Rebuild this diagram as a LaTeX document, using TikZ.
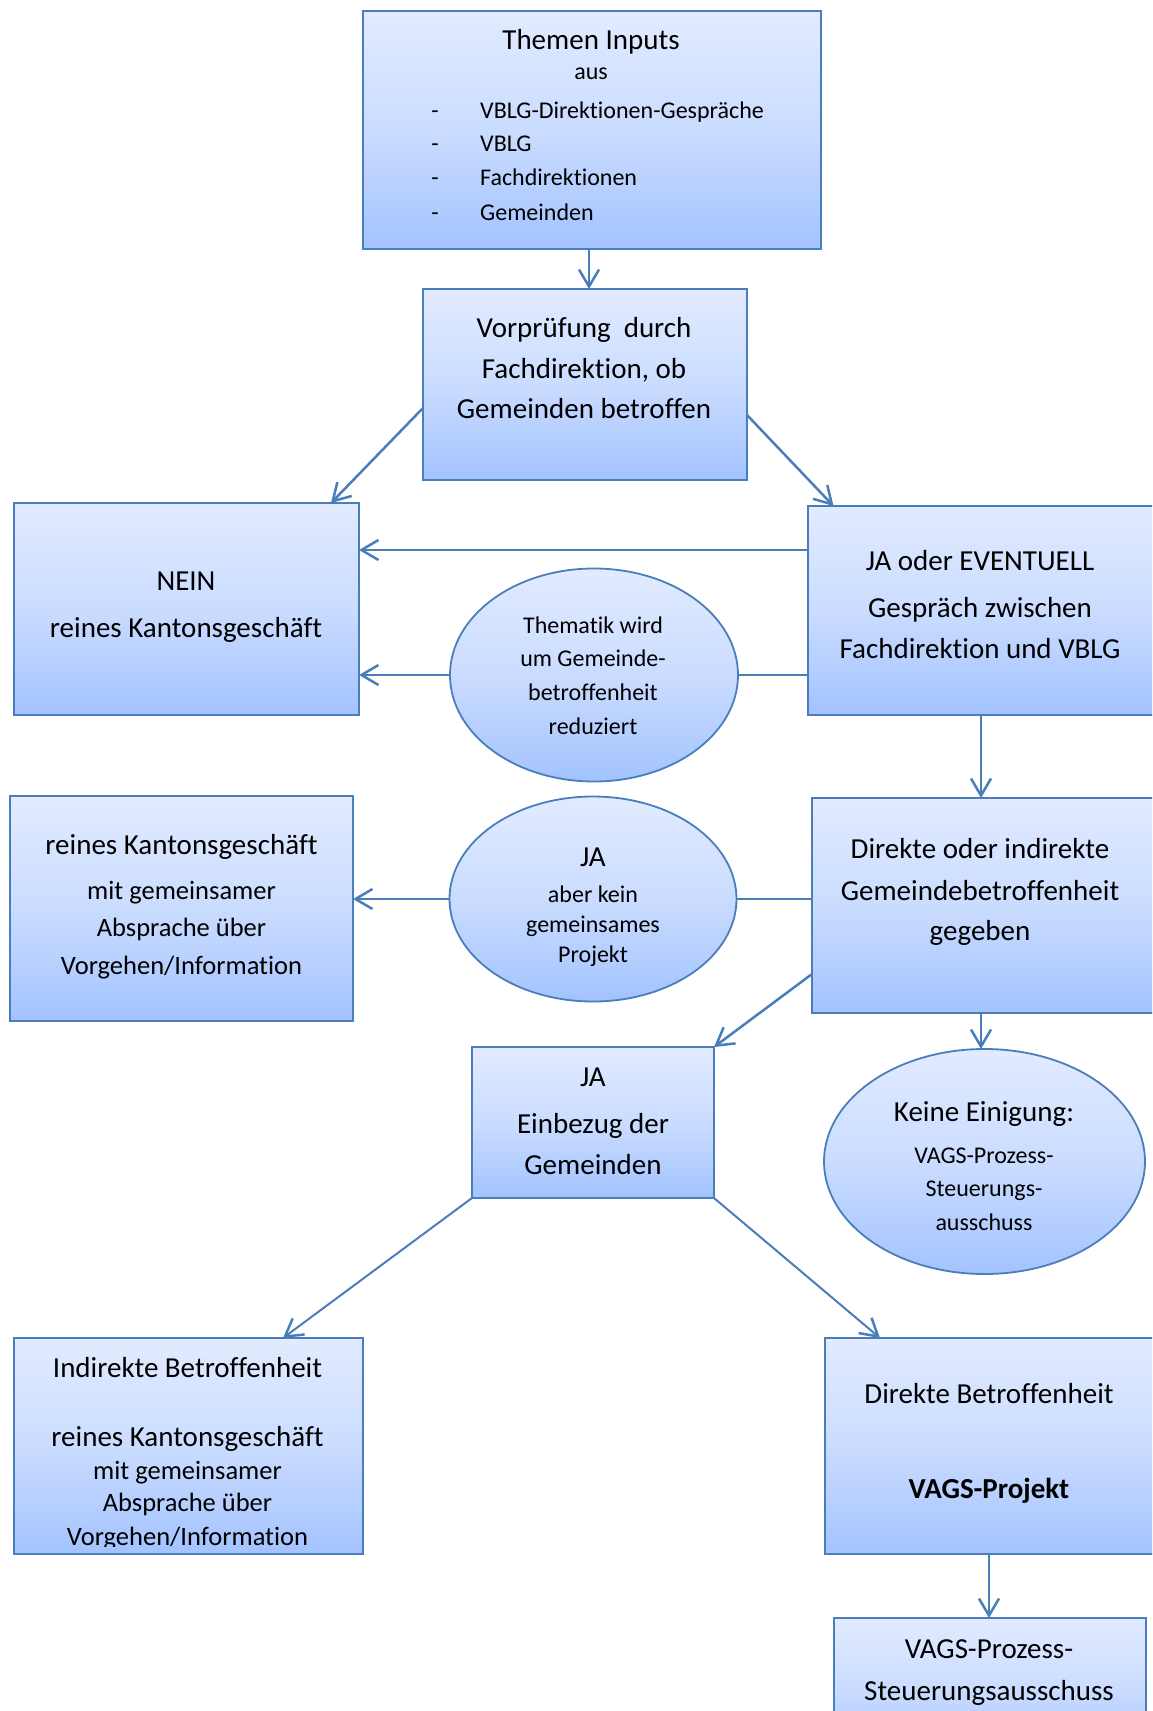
\documentclass[tikz,border=0pt]{standalone}
\usepackage{fontspec}
\setmainfont{Carlito}[Ligatures=NoCommon]
\usetikzlibrary{shapes.geometric,arrows.meta,calc}
\definecolor{bd}{RGB}{74,126,187}
\definecolor{gtop}{RGB}{226,235,255}
\definecolor{gmid}{RGB}{202,220,255}
\definecolor{gbot}{RGB}{163,195,255}
\newcommand\szA{\fontsize{29}{35}\selectfont}
\newcommand\szB{\fontsize{24}{29}\selectfont}
\newcommand\szC{\fontsize{26.5}{32}\selectfont}
\tikzset{
  boxshape/.style={draw=bd, line width=2pt, top color=gtop, bottom color=gbot, middle color=gmid, inner sep=0pt, outer sep=0pt},
  rbox/.style={boxshape, rectangle},
  ebox/.style={boxshape, ellipse, line width=1.8pt},
  conn/.style={draw=bd, line width=2.5pt},
  arr/.style={conn, -{Straight Barb[length=17pt,width=20pt,line width=2.5pt]}},
  txt/.style={inner sep=0pt, anchor=base, text=black},
  txtw/.style={inner sep=0pt, anchor=base west, text=black},
}
\begin{document}
\begin{tikzpicture}[x=1pt,y=-1pt]
\clip (0,0) rectangle (1152,1711);
\fill[white] (0,0) rectangle (1152,1711);
% boxes
\node[rbox, minimum width=458pt, minimum height=238pt] (top) at (592,130) {};
\node[rbox, minimum width=324pt, minimum height=191pt] (vor) at (585,384.5) {};
\node[rbox, minimum width=345pt, minimum height=212pt] (nein) at (186.5,609) {};
\node[rbox, minimum width=350pt, minimum height=209pt] (ja) at (983,610.5) {};
\node[ebox, minimum width=288pt, minimum height=213pt] (el1) at (594,675) {};
\node[rbox, minimum width=343pt, minimum height=225pt] (kg) at (181.5,908.5) {};
\node[ebox, minimum width=287pt, minimum height=205pt] (el2) at (593,899) {};
\node[rbox, minimum width=346pt, minimum height=215pt] (dir) at (985,905.5) {};
\node[rbox, minimum width=242pt, minimum height=151pt] (einb) at (593,1122.5) {};
\node[ebox, minimum width=321pt, minimum height=225pt] (keine) at (984.5,1161.5) {};
\node[rbox, minimum width=349pt, minimum height=216pt] (ind) at (188.5,1446) {};
\node[rbox, minimum width=333pt, minimum height=216pt] (dbet) at (991.5,1446) {};
\node[rbox, minimum width=312pt, minimum height=142pt] (last) at (990,1689) {};
% connectors
\draw[arr] ([xshift=-3pt]top.south) -- ([xshift=-3pt]top.south |- vor.north);
\draw[arr] ([yshift=-23.5pt]vor.west) -- ([xshift=-28pt]nein.north east);
\draw[arr] ([yshift=-30.5pt]vor.east) -- ([xshift=25.5pt]ja.north west);
\draw[arr] ([yshift=60.5pt]ja.west) -- ([yshift=60.5pt]ja.west -| nein.east);
\draw[conn] ([yshift=-64.5pt]ja.west) -- (el1.east);
\draw[arr] (el1.west) -- (el1.west -| nein.east);
\draw[arr] ([xshift=-2pt]ja.south) -- ([xshift=-2pt]ja.south |- dir.north);
\draw[conn] ([yshift=6.5pt]dir.west) -- (el2.east);
\draw[arr] (el2.west) -- (el2.west -| kg.east);
\draw[arr] ([yshift=-68.5pt]dir.west) -- (einb.north east);
\draw[arr] ([xshift=-4pt]dir.south) -- ([xshift=-4pt]dir.south |- keine.north);
\draw[arr, line width=2pt] (einb.south west) -- ([xshift=269pt]ind.north west);
\draw[arr, line width=2pt] (einb.south east) -- ([xshift=55pt]dbet.north west);
\draw[arr, line width=2pt] ([xshift=-2.5pt]dbet.south) -- ([xshift=-2.5pt]dbet.south |- last.north);
% texts: top
\node[txt, font=\szA] (t1) at (591,49.3) {Themen Inputs};
\node[txt, font=\szB] (t2) at (591,79.5) {aus};
\node[txt, font=\szB] (d1) at (435,118.3) {-};
\node[txt, font=\szB] (d2) at (435,151.7) {-};
\node[txt, font=\szB] (d3) at (435,185) {-};
\node[txt, font=\szB] (d4) at (435,220) {-};
\node[txtw, font=\szB] (i1) at (480,118.3) {VBLG-Direktionen-Gespräche};
\node[txtw, font=\szB] (i2) at (480,151.7) {VBLG};
\node[txtw, font=\szB] (i3) at (480,185) {Fachdirektionen};
\node[txtw, font=\szB] (i4) at (480,220) {Gemeinden};
% vor
\node[txt, font=\szA] (v1) at (584,337.3) {Vorprüfung\ \ durch};
\node[txt, font=\szA] (v2) at (584,378.3) {Fachdirektion, ob};
\node[txt, font=\szA] (v3) at (584,418.3) {Gemeinden betroffen};
% nein
\node[txt, font=\szA] (n1) at (186,590) {NEIN};
\node[txt, font=\szA] (n2) at (186,637) {reines Kantonsgeschäft};
% ja
\node[txt, font=\szA] (j1) at (980,570) {JA oder EVENTUELL};
\node[txt, font=\szA] (j2) at (980,617) {Gespräch zwischen};
\node[txt, font=\szA] (j3) at (980,658) {Fachdirektion und VBLG};
% el1
\node[txt, font=\szB] (e1) at (593,633) {Thematik wird};
\node[txt, font=\szB] (e2) at (593,666.6) {um Gemeinde-};
\node[txt, font=\szB] (e3) at (593,700) {betroffenheit};
\node[txt, font=\szB] (e4) at (593,734) {reduziert};
% kg
\node[txt, font=\szA] (k1) at (181.5,854) {reines Kantonsgeschäft};
\node[txt, font=\szC] (k2) at (181.5,899) {mit gemeinsamer};
\node[txt, font=\szC] (k3) at (181.5,936) {Absprache über};
\node[txt, font=\szC] (k4) at (181.5,974) {Vorgehen/Information};
% el2
\node[txt, font=\szA] (f1) at (593,866) {JA};
\node[txt, font=\szB] (f2) at (593,902.5) {aber kein};
\node[txt, font=\szB] (f3) at (593,932.5) {gemeinsames};
\node[txt, font=\szB] (f4) at (593,962) {Projekt};
% dir
\node[txt, font=\szA] (r1) at (980,858.5) {Direkte oder indirekte};
\node[txt, font=\szA] (r2) at (980,900) {Gemeindebetroffenheit};
\node[txt, font=\szA] (r3) at (980,940) {gegeben};
% einb
\node[txt, font=\szA] (b1) at (593,1086.5) {JA};
\node[txt, font=\szA] (b2) at (593,1133) {Einbezug der};
\node[txt, font=\szA] (b3) at (593,1174) {Gemeinden};
% keine
\node[txt, font=\szA] (g1) at (984,1121) {Keine Einigung:};
\node[txt, font=\szB] (g2) at (984,1163) {VAGS-Prozess-};
\node[txt, font=\szB] (g3) at (984,1196) {Steuerungs-};
\node[txt, font=\szB] (g4) at (984,1230) {ausschuss};
% ind
\begin{scope}
\clip (14,1338) rectangle (363,1546);
\node[txt, font=\szA] (h1) at (187.5,1377) {Indirekte Betroffenheit};
\node[txt, font=\szA] (h2) at (187.5,1446) {reines Kantonsgeschäft};
\node[txt, font=\szC] (h3) at (187.5,1479) {mit gemeinsamer};
\node[txt, font=\szC] (h4) at (187.5,1511) {Absprache über};
\node[txt, font=\szC] (h5) at (187.5,1545) {Vorgehen/Information};
\end{scope}
% dbet
\node[txt, font=\szA] (p1) at (989,1403.5) {Direkte Betroffenheit};
\node[txt, font=\szA] (p2) at (989,1498) {\bfseries VAGS-Projekt};
% last
\node[txt, font=\szA] (l1) at (989,1658) {VAGS-Prozess-};
\node[txt, font=\szA] (l2) at (989,1700) {Steuerungsausschuss};
\end{tikzpicture}
\end{document}
